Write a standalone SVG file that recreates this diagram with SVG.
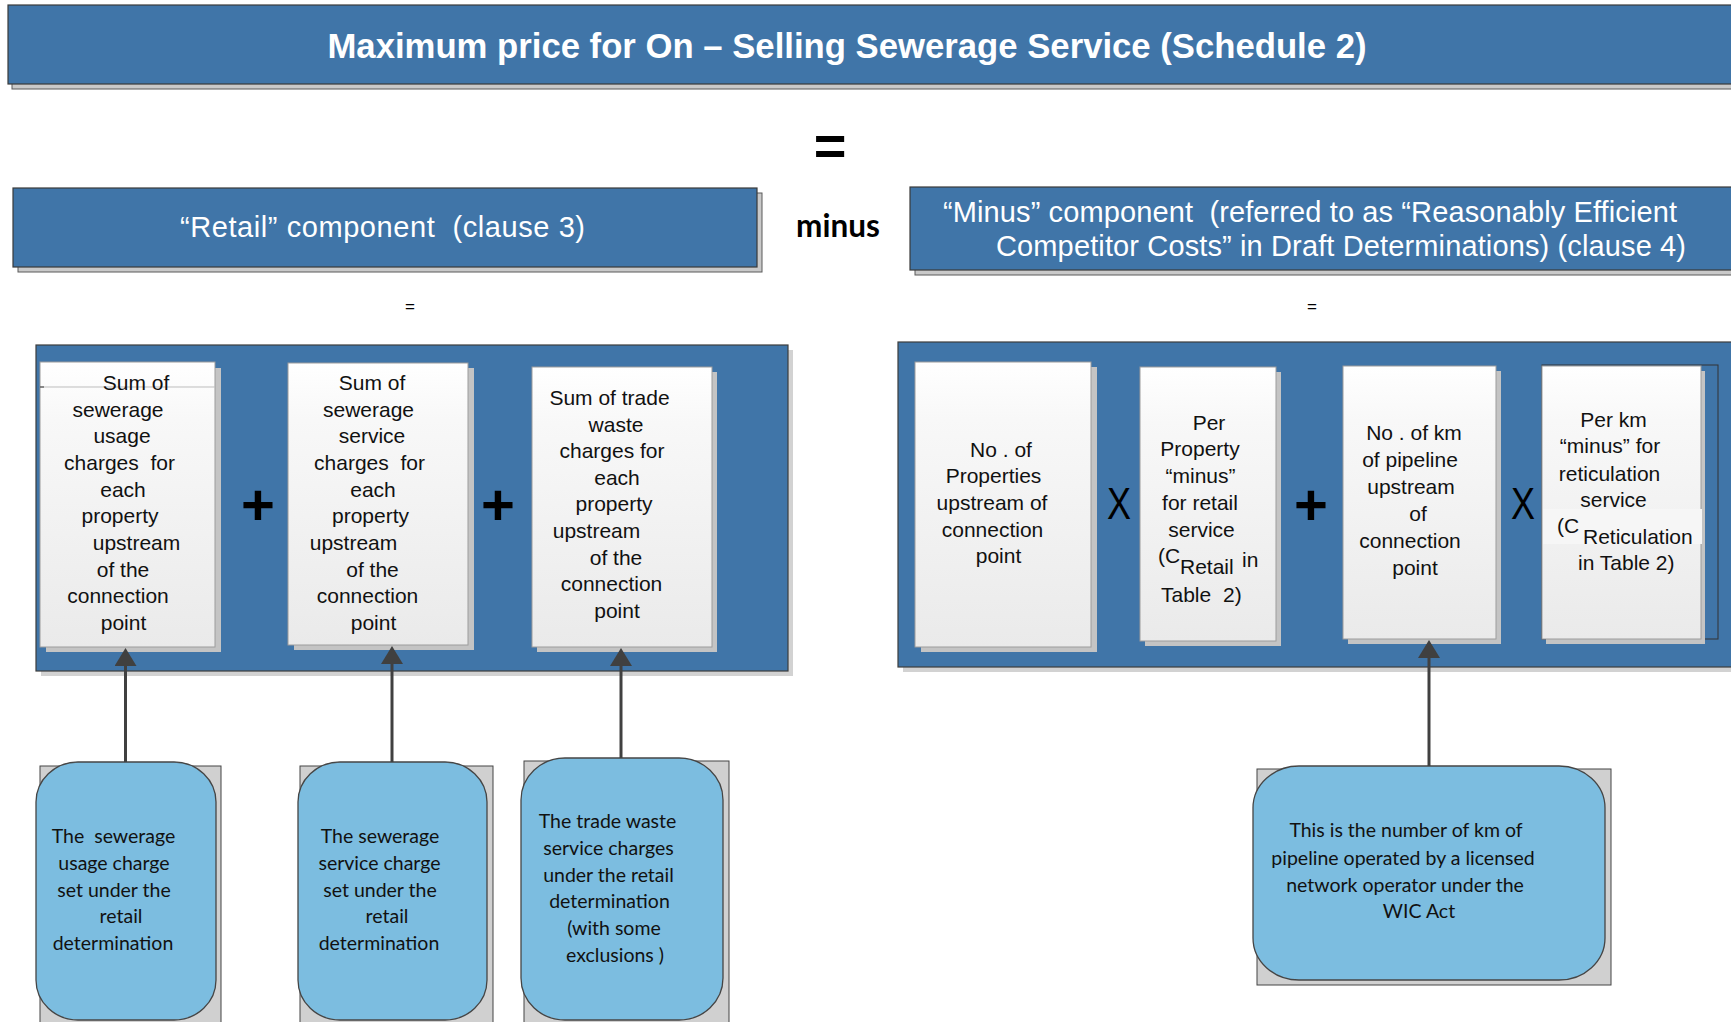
<svg xmlns="http://www.w3.org/2000/svg" width="1731" height="1022" viewBox="0 0 1731 1022">
<defs>
<linearGradient id="cardGrad" x1="0" y1="0" x2="0" y2="1">
<stop offset="0" stop-color="#ffffff"/>
<stop offset="0.2" stop-color="#f8f8f8"/>
<stop offset="1" stop-color="#eaeaea"/>
</linearGradient>
<marker id="arr" viewBox="0 0 18 22" refX="8" refY="11" markerWidth="18" markerHeight="22" markerUnits="userSpaceOnUse" orient="auto">
<path d="M0,0 L18,11 L0,22 z" fill="#404040"/>
</marker>
<style>
.hdr{fill:#4075a8;stroke:#3a3a3a;stroke-width:1.2}
.hsh{fill:#c9c9c9;stroke:#5a5a5a;stroke-width:1}
.panel{fill:#4075a8;stroke:#3d3d3d;stroke-width:1.2}
.psh{fill:#d2d2d2}
.card{fill:url(#cardGrad);stroke:#9c9c9c;stroke-width:1}
.csh{fill:#c4c4c4}
.bub{fill:#7cbde0;stroke:#454545;stroke-width:1.3}
.bsh{fill:#d0d0d0;stroke:#444;stroke-width:1}
.wt{font-family:"Liberation Sans",Arial,sans-serif;fill:#ffffff;font-size:29px;white-space:pre}
.t{font-family:"Liberation Sans",Arial,sans-serif;font-size:21px;fill:#111;text-anchor:middle;white-space:pre}
.ts{font-family:"Liberation Sans",Arial,sans-serif;font-size:21px;fill:#111}
.bt{font-family:Lato,"Open Sans",sans-serif;font-size:19.5px;fill:#111;text-anchor:middle;white-space:pre}
.op{font-family:"Liberation Sans",Arial,sans-serif;fill:#000;text-anchor:middle}
.conn{stroke:#404040;stroke-width:3;fill:none}
</style>
</defs>
<rect width="1731" height="1022" fill="#ffffff"/>

<g id="title">
<rect class="hsh" x="12" y="10" width="1730" height="79"/>
<rect class="hdr" x="8" y="5" width="1730" height="79"/>
<text x="847" y="58" font-family="Liberation Sans, Arial, sans-serif" font-weight="bold" font-size="34.7" fill="#fff" text-anchor="middle">Maximum price for On – Selling Sewerage Service (Schedule 2)</text>
</g>

<g id="equals-main">
<text class="op" x="830" y="165" font-size="56" font-weight="bold">=</text>
</g>

<g id="retail-header">
<rect class="hsh" x="18" y="193" width="744" height="79"/>
<rect class="hdr" x="13" y="188" width="744" height="79"/>
<text class="wt" xml:space="preserve" x="180" y="237" textLength="405" lengthAdjust="spacing">“Retail” component  (clause 3)</text>
</g>

<g id="minus-label">
<text x="838" y="237" font-family="Lato, 'Open Sans', sans-serif" font-weight="bold" font-size="31.5" fill="#000" text-anchor="middle">minus</text>
</g>

<g id="minus-header">
<rect class="hsh" x="915" y="192" width="830" height="83"/>
<rect class="hdr" x="910" y="187" width="830" height="83"/>
<text class="wt" xml:space="preserve" x="943" y="222" textLength="734" lengthAdjust="spacing">“Minus” component  (referred to as “Reasonably Efficient</text>
<text class="wt" x="996" y="256" textLength="690" lengthAdjust="spacing">Competitor Costs” in Draft Determinations) (clause 4)</text>
</g>

<g id="eq-left"><text class="op" x="410" y="312" font-size="17" fill="#222">=</text></g>
<g id="eq-right"><text class="op" x="1312" y="312" font-size="17" fill="#222">=</text></g>

<g id="retail-panel">
<rect class="psh" x="41" y="350" width="752" height="326"/>
<rect class="panel" x="36" y="345" width="752" height="326"/>
</g>

<g id="card-usage">
<rect class="csh" x="46" y="368" width="175" height="284"/>
<rect class="card" x="40" y="362" width="175" height="285"/>
<line x1="40" y1="387" x2="215" y2="387" stroke="#bdbdbd" stroke-width="1"/>
<line x1="40" y1="387" x2="44" y2="387" stroke="#333" stroke-width="1"/>
<text class="t" xml:space="preserve"><tspan x="136" y="390">Sum of</tspan><tspan x="118" y="417">sewerage</tspan><tspan x="122" y="443">usage</tspan><tspan x="119.5" y="470">charges  for</tspan><tspan x="123" y="497">each</tspan><tspan x="120" y="523">property</tspan><tspan x="136.5" y="550">upstream</tspan><tspan x="123" y="577">of the</tspan><tspan x="118" y="603">connection</tspan><tspan x="123.5" y="630">point</tspan></text>
</g>

<g id="plus-1"><text class="op" x="258" y="525" font-size="58" font-weight="bold">+</text></g>

<g id="card-service">
<rect class="csh" x="294" y="368" width="180" height="282"/>
<rect class="card" x="288" y="363" width="180" height="282"/>
<text class="t" xml:space="preserve"><tspan x="372" y="390">Sum of</tspan><tspan x="368.5" y="417">sewerage</tspan><tspan x="372" y="443">service</tspan><tspan x="369.5" y="470">charges  for</tspan><tspan x="373" y="497">each</tspan><tspan x="370.5" y="523">property</tspan><tspan x="353.5" y="550">upstream</tspan><tspan x="372.5" y="577">of the</tspan><tspan x="367.5" y="603">connection</tspan><tspan x="373.5" y="630">point</tspan></text>
</g>

<g id="plus-2"><text class="op" x="498" y="525" font-size="58" font-weight="bold">+</text></g>

<g id="card-trade">
<rect class="csh" x="537" y="372" width="180" height="280"/>
<rect class="card" x="532" y="367" width="180" height="280"/>
<text class="t"><tspan x="609.5" y="405">Sum of trade</tspan><tspan x="616" y="432">waste</tspan><tspan x="612" y="458">charges for</tspan><tspan x="617" y="485">each</tspan><tspan x="614" y="511">property</tspan><tspan x="596.5" y="538">upstream</tspan><tspan x="616" y="565">of the</tspan><tspan x="611.5" y="591">connection</tspan><tspan x="617" y="618">point</tspan></text>
</g>

<g id="minus-panel">
<rect class="psh" x="903" y="347" width="840" height="325"/>
<rect class="panel" x="898" y="342" width="840" height="325"/>
</g>

<g id="card-properties">
<rect class="csh" x="921" y="367" width="176" height="285"/>
<rect class="card" x="915" y="362" width="176" height="285"/>
<text class="t"><tspan x="1001" y="457">No . of</tspan><tspan x="993.5" y="483">Properties</tspan><tspan x="992" y="510">upstream of</tspan><tspan x="992.5" y="537">connection</tspan><tspan x="998.5" y="563">point</tspan></text>
</g>

<g id="times-1"><text class="op" x="1119" y="519" font-size="44" textLength="24" lengthAdjust="spacingAndGlyphs">X</text></g>

<g id="card-retail-minus">
<rect class="csh" x="1145" y="372" width="136" height="274"/>
<rect class="card" x="1140" y="367" width="136" height="274"/>
<text class="t"><tspan x="1209" y="430">Per</tspan><tspan x="1200" y="456">Property</tspan><tspan x="1200.5" y="483">“minus”</tspan><tspan x="1200" y="510">for retail</tspan><tspan x="1201.5" y="537">service</tspan></text>
<text class="ts"><tspan x="1158" y="563">(C</tspan><tspan x="1180" y="574">Retail</tspan><tspan x="1242" y="567">in</tspan><tspan x="1161" y="602">Table</tspan><tspan x="1223" y="602">2)</tspan></text>
</g>

<g id="plus-3"><text class="op" x="1311" y="525" font-size="58" font-weight="bold">+</text></g>

<g id="card-km">
<rect class="csh" x="1348" y="371" width="153" height="273"/>
<rect class="card" x="1343" y="366" width="153" height="273"/>
<text class="t"><tspan x="1414" y="440">No . of km</tspan><tspan x="1410" y="467">of pipeline</tspan><tspan x="1411" y="494">upstream</tspan><tspan x="1418" y="521">of</tspan><tspan x="1410" y="548">connection</tspan><tspan x="1415" y="575">point</tspan></text>
</g>

<g id="times-2"><text class="op" x="1523" y="519" font-size="44" textLength="24" lengthAdjust="spacingAndGlyphs">X</text></g>

<g id="card-reticulation">
<rect x="1542" y="365" width="176" height="274" fill="none" stroke="#333" stroke-width="1"/>
<rect class="csh" x="1546" y="371" width="159" height="273"/>
<rect class="card" x="1542" y="366" width="159" height="273"/>
<rect x="1543" y="509" width="159" height="35" fill="#f6f6f6"/>
<text class="t"><tspan x="1613.5" y="427">Per km</tspan><tspan x="1610" y="453">“minus” for</tspan><tspan x="1609.5" y="481">reticulation</tspan><tspan x="1613.5" y="507">service</tspan></text>
<text class="ts"><tspan x="1557" y="533">(C</tspan><tspan x="1583" y="544">Reticulation</tspan><tspan x="1578" y="570">in Table 2)</tspan></text>
</g>

<g id="note-usage">
<rect class="bsh" x="40" y="766" width="181" height="262"/>
<rect class="bub" x="36" y="762" width="180" height="258" rx="42" ry="40"/>
<text class="bt" xml:space="preserve"><tspan x="113.5" y="843">The  sewerage</tspan><tspan x="114" y="870">usage charge</tspan><tspan x="114" y="897">set under the</tspan><tspan x="121" y="923">retail</tspan><tspan x="113" y="950">determination</tspan></text>
</g>

<g id="note-service">
<rect class="bsh" x="300" y="766" width="193" height="262"/>
<rect class="bub" x="298" y="762" width="189" height="258" rx="42" ry="40"/>
<text class="bt"><tspan x="380" y="843">The sewerage</tspan><tspan x="379.5" y="870">service charge</tspan><tspan x="380" y="897">set under the</tspan><tspan x="387" y="923">retail</tspan><tspan x="379" y="950">determination</tspan></text>
</g>

<g id="note-trade">
<rect class="bsh" x="524" y="761" width="205" height="267"/>
<rect class="bub" x="521" y="758" width="202" height="262" rx="44" ry="42"/>
<text class="bt"><tspan x="607.5" y="828">The trade waste</tspan><tspan x="608.5" y="855">service charges</tspan><tspan x="608.5" y="882">under the retail</tspan><tspan x="609.5" y="908">determination</tspan><tspan x="614" y="935">(with some</tspan><tspan x="615" y="962">exclusions )</tspan></text>
</g>

<g id="note-km">
<rect class="bsh" x="1257" y="769" width="354" height="216"/>
<rect class="bub" x="1253" y="766" width="352" height="214" rx="46" ry="42"/>
<text class="bt"><tspan x="1406" y="837">This is the number of km of</tspan><tspan x="1403" y="865">pipeline operated by a licensed</tspan><tspan x="1405" y="892">network operator under the</tspan><tspan x="1419" y="918">WIC Act</tspan></text>
</g>

<g id="connectors">
<line class="conn" x1="125.5" y1="762" x2="125.5" y2="658" marker-end="url(#arr)"/>
<line class="conn" x1="392" y1="762" x2="392" y2="656" marker-end="url(#arr)"/>
<line class="conn" x1="621" y1="758" x2="621" y2="658" marker-end="url(#arr)"/>
<line class="conn" x1="1429" y1="766" x2="1429" y2="650" marker-end="url(#arr)"/>
</g>
</svg>
